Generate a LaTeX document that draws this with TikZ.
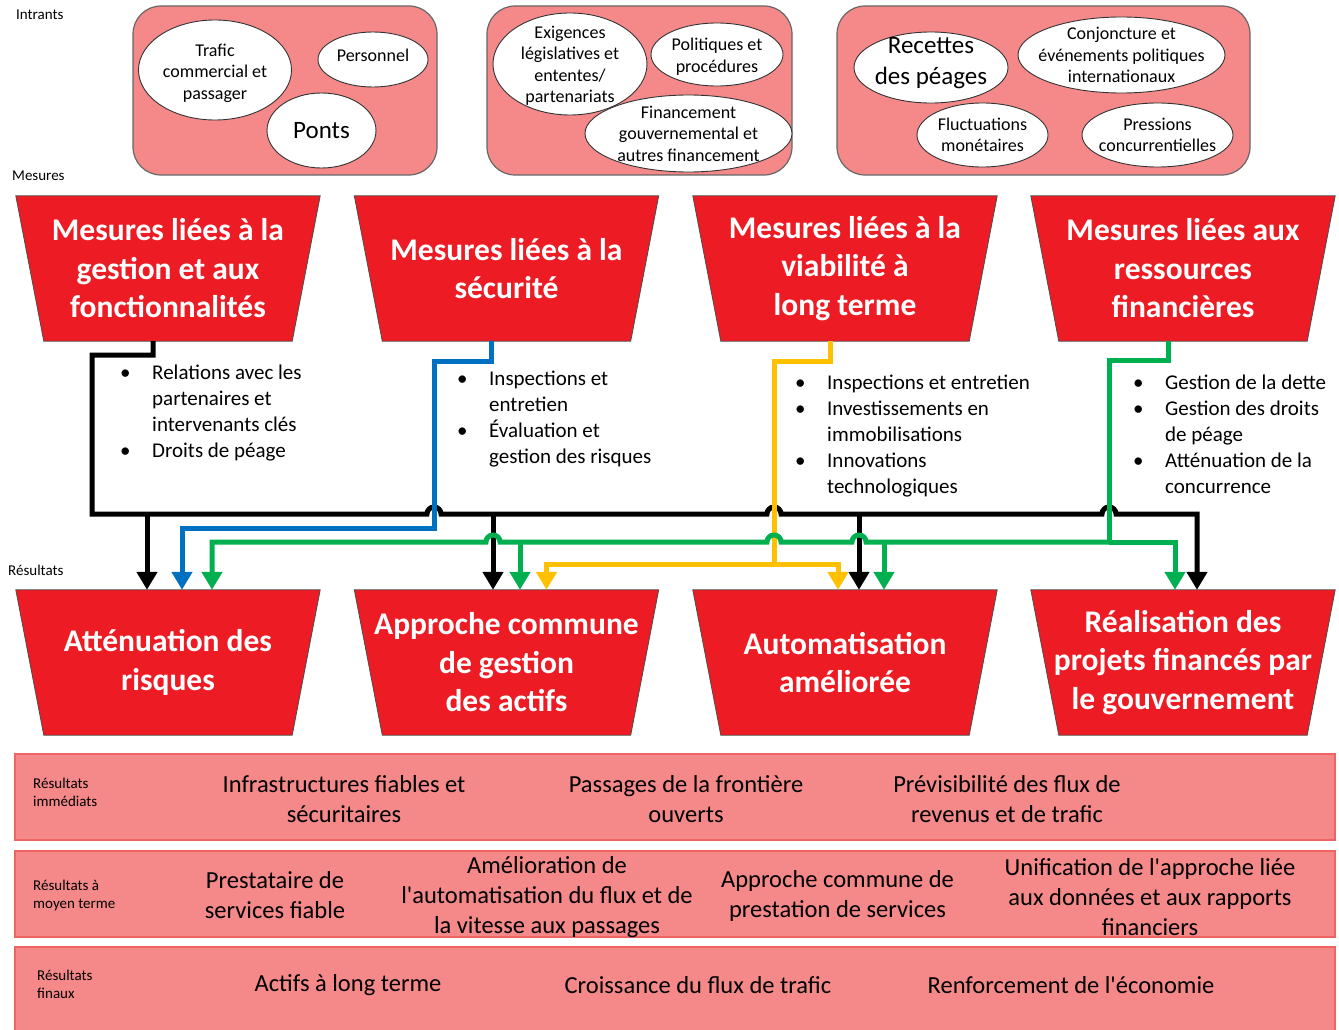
\documentclass[tikz,border=0pt]{standalone}
\usepackage{fontspec}
\setmainfont{Carlito}
\usepackage{tikz}
\usetikzlibrary{arrows.meta,shapes.geometric,backgrounds}

\definecolor{saumon}{RGB}{245,137,137}
\definecolor{bord}{RGB}{238,100,100}
\definecolor{rouge}{RGB}{237,28,36}
\definecolor{bleu}{RGB}{0,112,192}
\definecolor{jaune}{RGB}{255,192,0}
\definecolor{vert}{RGB}{0,176,80}

\newcommand{\blt}{\makebox[32pt][l]{\textbullet}}

\begin{document}
\begin{tikzpicture}[x=1pt,y=-1pt,
    boite/.style={fill=saumon,draw=black!60,line width=1.2pt,rounded corners=28pt,inner sep=0pt},
    oval/.style={ellipse,fill=white,draw=black!80,line width=0.9pt,inner sep=0pt},
    petit/.style={align=center,inner sep=0pt,font=\fontsize{18}{21.5}\selectfont},
    grand/.style={align=center,inner sep=0pt,font=\fontsize{25}{31}\selectfont},
    titre/.style={minimum width=304pt,minimum height=145pt,inner sep=0pt,text=white,
        align=center,font=\bfseries\fontsize{31.5}{38.5}\selectfont},
    trap/.style={fill=rouge,draw=black!70,line width=0.8pt},
    puces/.style={anchor=base west,inner sep=0pt,font=\fontsize{21}{26}\selectfont},
    etiq/.style={anchor=west,inner sep=0pt,align=left,font=\fontsize{15}{18}\selectfont},
    bande/.style={fill=saumon,draw=bord,line width=1.2pt,minimum width=1320pt,inner sep=0pt},
    res/.style={align=center,inner sep=0pt,font=\fontsize{24.5}{30}\selectfont},
    lien/.style={line width=5pt},
    fleche/.style={-{Triangle[width=20pt,length=18pt]}}
  ]
  \useasboundingbox (0,0) rectangle (1339,1030);

  % intrants
  \node[etiq] (intrants) at (16,15) {Intrants};
  \node[boite,minimum width=304pt,minimum height=169pt] (in1) at (285,90.5) {};
  \node[boite,minimum width=305pt,minimum height=169pt] (in2) at (639.5,90.5) {};
  \node[boite,minimum width=413pt,minimum height=169pt] (in3) at (1043.5,90.5) {};

  \node[oval,minimum width=153pt,minimum height=100pt] (trafic) at (215,70) {};
  \node[oval,minimum width=110pt,minimum height=55pt] (perso) at (373,59.5) {};
  \node[oval,minimum width=109pt,minimum height=75pt] (ponts) at (321.5,130.5) {};
  \node[oval,minimum width=154pt,minimum height=102pt] (exig) at (570,64) {};
  \node[oval,minimum width=132pt,minimum height=63pt] (polit) at (717,54.5) {};
  \node[oval,minimum width=207pt,minimum height=77pt] (financ) at (688.5,133.5) {};
  \node[oval,minimum width=154pt,minimum height=71pt] (recet) at (931,67.5) {};
  \node[oval,minimum width=207pt,minimum height=76pt] (conj) at (1121.5,55) {};
  \node[oval,minimum width=131pt,minimum height=64pt] (fluct) at (982.5,135) {};
  \node[oval,minimum width=151pt,minimum height=64pt] (press) at (1157.5,135) {};

  \node[petit] (trafic-t) at ([yshift=-3pt]trafic.center) {Trafic\\commercial et\\passager};
  \node[petit] (perso-t) at ([yshift=4pt]perso.center) {Personnel};
  \node[grand] (ponts-t) at (ponts) {Ponts};
  \node[petit] (exig-t) at ([yshift=-2pt]exig.center) {Exigences\\législatives et\\ententes/\\partenariats};
  \node[petit] (polit-t) at ([yshift=-2pt]polit.center) {Politiques et\\procédures};
  \node[petit] (financ-t) at (financ) {Financement\\gouvernemental et\\autres financement};
  \node[grand] (recet-t) at ([yshift=4pt]recet.center) {Recettes\\des péages};
  \node[petit] (conj-t) at (conj) {Conjoncture et\\événements politiques\\internationaux};
  \node[petit] (fluct-t) at (fluct) {Fluctuations\\monétaires};
  \node[petit] (press-t) at (press) {Pressions\\concurrentielles};

  % mesures et resultats
  \node[etiq] (mesures) at (12,176) {Mesures};
  \node[etiq] (resultats) at (8,570) {Résultats};

  \node[titre] (m1) at (168,268.5) {Mesures liées à la\\gestion et aux\\fonctionnalités};
  \node[titre] (m2) at (506.5,268.5) {Mesures liées à la\\sécurité};
  \node[titre] (m3) at (845,268.5) {Mesures liées à la\\viabilité à\\long terme};
  \node[titre] (m4) at (1183,268.5) {Mesures liées aux\\ressources\\financières};
  \node[titre] (r1) at (168,662.5) {Atténuation des\\risques};
  \node[titre] (r2) at (506.5,662.5) {Approche commune\\de gestion\\des actifs};
  \node[titre] (r3) at (845,662.5) {Automatisation\\améliorée};
  \node[titre] (r4) at (1183,662.5) {Réalisation des\\projets financés par\\le gouvernement};

  \begin{scope}[on background layer]
    \foreach \nom in {m1,m2,m3,m4,r1,r2,r3,r4}
      \draw[trap] (\nom.north west) -- (\nom.north east) -- ([xshift=-28pt]\nom.south east)
        -- ([xshift=28pt]\nom.south west) -- cycle;
  \end{scope}

  \node[puces] (liste1) at (120,379) {\begin{tabular}[t]{@{}l@{}l@{}}
      \blt & Relations avec les\\ & partenaires et\\ & intervenants clés\\
      \blt & Droits de péage\end{tabular}};
  \node[puces] (liste2) at (457,385) {\begin{tabular}[t]{@{}l@{}l@{}}
      \blt & Inspections et\\ & entretien\\
      \blt & Évaluation et\\ & gestion des risques\end{tabular}};
  \node[puces] (liste3) at (795,389) {\begin{tabular}[t]{@{}l@{}l@{}}
      \blt & Inspections et entretien\\
      \blt & Investissements en\\ & immobilisations\\
      \blt & Innovations\\ & technologiques\end{tabular}};
  \node[puces] (liste4) at (1133,389) {\begin{tabular}[t]{@{}l@{}l@{}}
      \blt & Gestion de la dette\\
      \blt & Gestion des droits\\ & de péage\\
      \blt & Atténuation de la\\ & concurrence\end{tabular}};

  % liens
  \draw[lien,fleche] ([xshift=-15pt]m1.south) |- (92,355) -- (92,514) -- (427,514) arc (180:360:7)
    -- (767,514) arc (180:360:7) -- (1102,514) arc (180:360:7) -| ([xshift=14pt]r4.north);
  \coordinate (n1) at (147,514);
  \coordinate (n2) at (493,514);
  \coordinate (n3) at (859,514);
  \draw[lien,fleche] (n1) -- ([xshift=-21pt]r1.north);
  \draw[lien,fleche] (n2) -- ([xshift=-13.5pt]r2.north);
  \draw[lien,fleche] (n3) -- ([xshift=14pt]r3.north);

  \draw[lien,bleu,fleche] ([xshift=-15pt]m2.south) |- (434,361) -- (434,528) -| ([xshift=14pt]r1.north);

  \draw[lien,jaune] ([xshift=-15pt]m3.south) |- (774,361) -- (774,564) coordinate (j0);
  \draw[lien,jaune,fleche] (j0) -| ([xshift=40pt]r2.north);
  \draw[lien,jaune,fleche] (j0) -| ([xshift=-7pt]r3.north);

  \draw[lien,vert] ([xshift=-15pt]m4.south) |- (1109,360) -- (1109,542) coordinate (v0);
  \draw[lien,vert,fleche] (v0) -- (866,542) arc (0:-180:7) -- (781,542) arc (0:-180:7)
    -- (500,542) arc (0:-180:7) -| ([xshift=44pt]r1.north);
  \draw[lien,vert,fleche] (v0) -| ([xshift=-8pt]r4.north);
  \coordinate (v2) at (520,542);
  \coordinate (v3) at (884,542);
  \draw[lien,vert,fleche] (v2) -- ([xshift=13.5pt]r2.north);
  \draw[lien,vert,fleche] (v3) -- ([xshift=39pt]r3.north);

  % bandes des resultats
  \node[bande,minimum height=86pt] (imm) at (675,797) {};
  \node[bande,minimum height=86pt] (moy) at (675,894) {};
  \node[bande,minimum height=88pt] (fin) at (675,991) {};

  \node[etiq] (imm-l) at (33,792.5) {Résultats\\immédiats};
  \node[etiq] (moy-l) at (33,895.5) {Résultats à\\moyen terme};
  \node[etiq] (fin-l) at (37,984) {Résultats\\finaux};

  \node[res] (imm1) at (344,799) {Infrastructures fiables et\\sécuritaires};
  \node[res] (imm2) at (686,799) {Passages de la frontière\\ouverts};
  \node[res] (imm3) at (1007,799) {Prévisibilité des flux de\\revenus et de trafic};
  \node[res] (moy1) at (275,895.5) {Prestataire de\\services fiable};
  \node[res] (moy2) at (547,897) {Amélioration de\\l\textquotesingle automatisation du flux et de\\la vitesse aux passages};
  \node[res] (moy3) at (837.5,895.5) {Approche commune de\\prestation de services};
  \node[res] (moy4) at (1150,897) {Unification de l\textquotesingle approche liée\\aux données et aux rapports\\financiers};
  \node[res] (fin1) at (348,985) {Actifs à long terme};
  \node[res] (fin2) at (698,985) {Croissance du flux de trafic};
  \node[res] (fin3) at (1071,985) {Renforcement de l\textquotesingle économie};
\end{tikzpicture}
\end{document}
